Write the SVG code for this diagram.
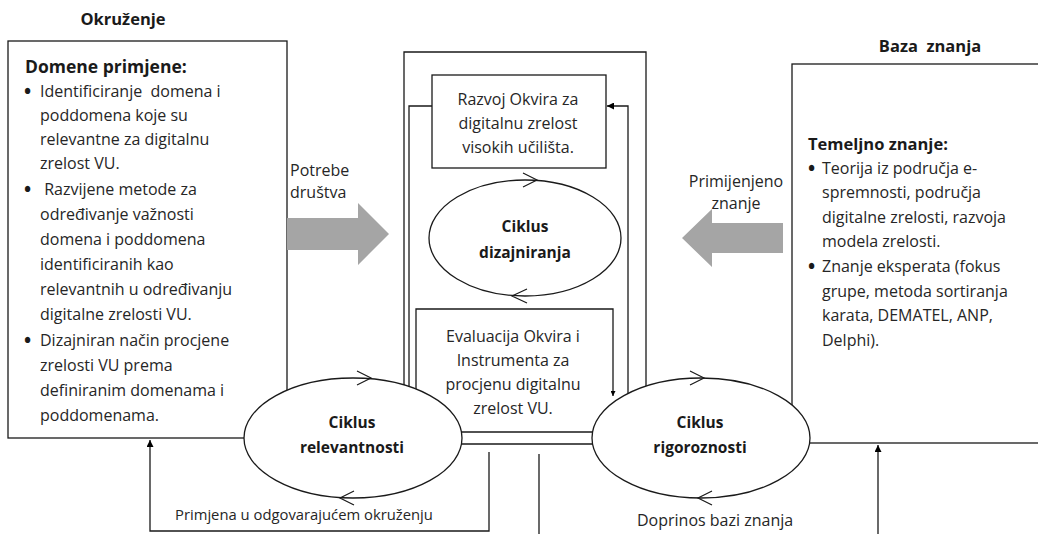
<svg xmlns="http://www.w3.org/2000/svg" width="1038" height="534" viewBox="0 0 1038 534">
<defs>
<style>
.t{font-family:"Open Sans","Liberation Sans",sans-serif;font-size:16px;fill:#262626}
.b{font-family:"Open Sans","Liberation Sans",sans-serif;font-size:16.5px;font-weight:bold;fill:#1a1a1a}
.bl{font-family:"Open Sans","Liberation Sans",sans-serif;font-size:19px;font-weight:bold;fill:#1a1a1a}
.e{font-size:15.5px}
.c{text-anchor:middle}
.ln{fill:none;stroke:#1a1a1a;stroke-width:1.3}
.box{fill:#fff;stroke:#1a1a1a;stroke-width:1.3}
.ell{fill:#fff;stroke:#1a1a1a;stroke-width:1.3}
.chev{fill:none;stroke:#1a1a1a;stroke-width:1.2}
.gray{fill:#a5a5a5}
</style>
<marker id="ah" viewBox="0 0 10 10" refX="10" refY="5" markerWidth="7" markerHeight="7" markerUnits="userSpaceOnUse" orient="auto">
<path d="M0,0 L10,5 L0,10 Z" fill="#000"/>
</marker>
<marker id="ahs" viewBox="0 0 10 10" refX="10" refY="5" markerWidth="5" markerHeight="5" markerUnits="userSpaceOnUse" orient="auto">
<path d="M0,0 L10,5 L0,10 Z" fill="#000"/>
</marker>
</defs>
<rect width="1038" height="534" fill="#fff"/>

<text class="b c" x="123" y="25">Okruženje</text>
<text class="b c" x="930" y="52" xml:space="preserve">Baza  znanja</text>

<g id="okruzenje">
<rect class="box" x="8" y="41" width="279" height="397"/>
<text class="b" x="25" y="73" style="font-size:17.5px">Domene primjene:</text>
<text class="bl" x="24" y="98">•</text>
<text class="bl" x="24" y="196">•</text>
<text class="bl" x="24" y="347">•</text>
<g class="t">
<text x="40" y="97" xml:space="preserve">Identificiranje  domena i</text>
<text x="40" y="121">poddomena koje su</text>
<text x="40" y="145">relevantne za digitalnu</text>
<text x="40" y="169">zrelost VU.</text>
<text x="40" y="195" xml:space="preserve"> Razvijene metode za</text>
<text x="40" y="220">određivanje važnosti</text>
<text x="40" y="245">domena i poddomena</text>
<text x="40" y="270">identificiranih kao</text>
<text x="40" y="295">relevantnih u određivanju</text>
<text x="40" y="320">digitalne zrelosti VU.</text>
<text x="40" y="346">Dizajniran način procjene</text>
<text x="40" y="371">zrelosti VU prema</text>
<text x="40" y="396">definiranim domenama i</text>
<text x="40" y="421">poddomenama.</text>
</g>
</g>

<g id="baza-znanja">
<rect class="box" x="792" y="64" width="260" height="379"/>
<text class="b" x="808" y="150">Temeljno znanje:</text>
<text class="bl" x="808" y="175">•</text>
<text class="bl" x="808" y="273">•</text>
<g class="t">
<text x="822" y="174">Teorija iz područja e-</text>
<text x="822" y="198">spremnosti, područja</text>
<text x="822" y="223">digitalne zrelosti, razvoja</text>
<text x="822" y="247">modela zrelosti.</text>
<text x="822" y="272">Znanje eksperata (fokus</text>
<text x="822" y="297">grupe, metoda sortiranja</text>
<text x="822" y="321">karata, DEMATEL, ANP,</text>
<text x="822" y="346">Delphi).</text>
</g>
</g>

<g id="connectors">
<path class="ln" d="M404,440 V52 H646 V440"/>
<path class="ln" d="M432,106 H409 V440"/>
<path class="ln" d="M628,440 V106 H607" marker-end="url(#ah)"/>
<path class="ln" d="M440,432 H620 M440,444 H620"/>
<path class="ln" d="M416,440 V309 H613 V396" marker-end="url(#ahs)"/>
<path class="ln" d="M489,452 V531 H150 V440" marker-end="url(#ah)"/>
<path class="ln" d="M539,454 V534"/>
<path class="ln" d="M878,534 V445" marker-end="url(#ah)"/>
<polygon class="gray" points="287,218 358,218 358,203 389,234 358,265 358,250 287,250"/>
<polygon class="gray" points="783,223 712,223 712,209 682,238 712,267 712,253 783,253"/>
</g>

<text class="t" x="290" y="176">Potrebe</text>
<text class="t" x="290" y="198">društva</text>
<text class="t c" x="736" y="187">Primijenjeno</text>
<text class="t c" x="736" y="209">znanje</text>

<g id="razvoj">
<rect class="box" x="432" y="75" width="174" height="93"/>
<text class="t c" x="518" y="105">Razvoj Okvira za</text>
<text class="t c" x="518" y="129">digitalnu zrelost</text>
<text class="t c" x="518" y="153">visokih učilišta.</text>
</g>

<g id="evaluacija">
<text class="t c" x="513" y="342">Evaluacija Okvira i</text>
<text class="t c" x="513" y="366">Instrumenta za</text>
<text class="t c" x="513" y="390">procjenu digitalnu</text>
<text class="t c" x="513" y="414">zrelost VU.</text>
</g>

<g id="ciklus-dizajniranja">
<ellipse class="ell" cx="525" cy="238" rx="96" ry="58"/>
<path class="chev" d="M523,173 L537,180 L523,187"/>
<path class="chev" d="M527,289 L512,296 L527,303"/>
<text class="b e c" x="525" y="232">Ciklus</text>
<text class="b e c" x="525" y="258">dizajniranja</text>
</g>

<g id="ciklus-relevantnosti">
<ellipse class="ell" cx="353" cy="438" rx="109" ry="60"/>
<path class="chev" d="M357,371 L371,378 L357,385"/>
<path class="chev" d="M354,491 L340,498 L354,505"/>
<text class="b e c" x="352" y="428">Ciklus</text>
<text class="b e c" x="352" y="453">relevantnosti</text>
</g>

<g id="ciklus-rigoroznosti">
<ellipse class="ell" cx="701" cy="438" rx="109" ry="60"/>
<path class="chev" d="M690,371 L704,378 L690,385"/>
<path class="chev" d="M712,491 L698,498 L712,505"/>
<text class="b e c" x="700" y="428">Ciklus</text>
<text class="b e c" x="700" y="453">rigoroznosti</text>
</g>

<text class="t" x="175" y="520" style="font-size:14.8px">Primjena u odgovarajućem okruženju</text>
<text class="t" x="637" y="526">Doprinos bazi znanja</text>
</svg>
